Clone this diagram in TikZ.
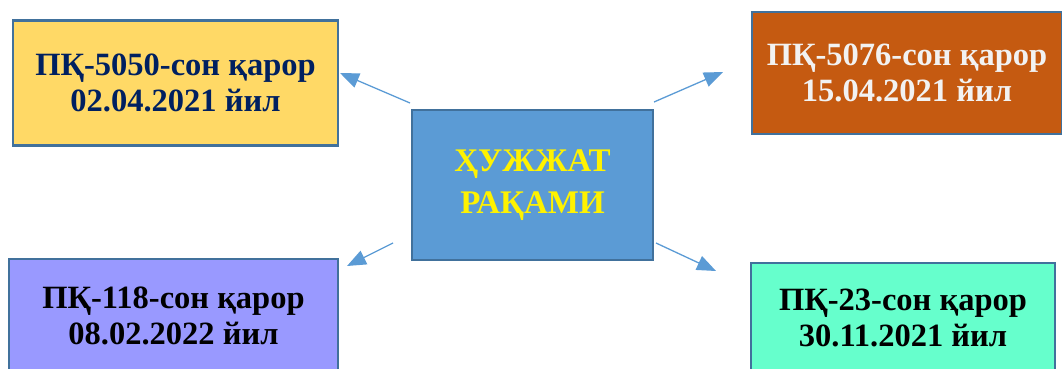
\documentclass[tikz,border=0pt]{standalone}
\usepackage{fontspec}
\setmainfont{Liberation Serif}
\usepackage{xcolor}
\usetikzlibrary{arrows.meta}

\definecolor{edgeblue}{HTML}{41719C}
\definecolor{hubblue}{HTML}{5B9BD5}
\definecolor{goldfill}{HTML}{FFD966}
\definecolor{rustfill}{HTML}{C55A11}
\definecolor{lilacfill}{HTML}{9999FF}
\definecolor{mintfill}{HTML}{66FFCC}
\definecolor{navytext}{HTML}{002060}

\tikzset{
    docbox/.style={draw=edgeblue, line width=2.5pt, align=center, inner sep=0pt,
        font=\bfseries\fontsize{32.5}{36}\selectfont},
    arr/.style={draw=hubblue, line width=1.3pt, -{Triangle[length=19pt,width=15pt]}}
}

\begin{document}
\begin{tikzpicture}[x=1pt, y=-1pt]
    \clip (0,0) rectangle (1062,368);

    % Central box
    \node[docbox, fill=hubblue, text=yellow, minimum width=241pt, minimum height=150pt,
        font=\bfseries\fontsize{33}{42}\selectfont] (hub) at (532.5,185) {ҲУЖЖАТ\\РАҚАМИ};

    % Decree boxes
    \node[docbox, fill=goldfill, text=navytext, minimum width=325pt, minimum height=125pt]
        (pk5050) at (175.5,83) {ПҚ-5050-сон қарор\\02.04.2021 йил};
    \node[docbox, fill=rustfill, text=white!95!black, minimum width=310pt, minimum height=122pt]
        (pk5076) at (907,73) {ПҚ-5076-сон қарор\\15.04.2021 йил};
    \node[docbox, fill=lilacfill, text=black, minimum width=329pt, minimum height=114pt]
        (pk118) at (173.5,316) {ПҚ-118-сон қарор\\08.02.2022 йил};
    \node[docbox, fill=mintfill, text=black, minimum width=304pt, minimum height=110pt]
        (pk23) at (903,318) {ПҚ-23-сон қарор\\30.11.2021 йил};

    % Arrow ends (they stop short of the boxes)
    \coordinate (tlA) at (410,103);  \coordinate (tlB) at (340,73);
    \coordinate (trA) at (654,102);  \coordinate (trB) at (723,72);
    \coordinate (blA) at (393,243);  \coordinate (blB) at (347,266);
    \coordinate (brA) at (656,243);  \coordinate (brB) at (716,271);

    \foreach \a/\b in {tlA/tlB, trA/trB, blA/blB, brA/brB} {
        \draw[arr] (\a) -- (\b);
    }
\end{tikzpicture}
\end{document}
